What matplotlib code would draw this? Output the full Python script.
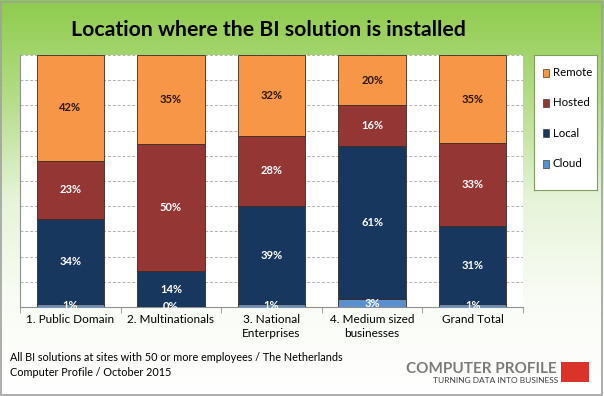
import numpy as np
import matplotlib
matplotlib.use("Agg")
import matplotlib.pyplot as plt
from matplotlib.colors import LinearSegmentedColormap
from matplotlib.patches import Rectangle

plt.rcParams['font.family'] = ['Lato', 'DejaVu Sans']

# data (percent per segment)
categories = ['1. Public Domain', '2. Multinationals', '3. National\nEnterprises',
              '4. Medium sized\nbusinesses', 'Grand Total']
series = ['Cloud', 'Local', 'Hosted', 'Remote']
cloud = [1, 0, 1, 3, 1]
local = [34, 14, 39, 61, 31]
hosted = [23, 50, 28, 16, 33]
remote = [42, 35, 32, 20, 35]

colors = {'Cloud': '#5A8FD0', 'Local': '#17375E', 'Hosted': '#943634', 'Remote': '#F79646'}
label_colors = {'Cloud': 'white', 'Local': 'white', 'Hosted': 'white', 'Remote': '#2B1500'}

fig = plt.figure(figsize=(6.04, 3.96), dpi=100)

# green gradient background
bg = fig.add_axes([0, 0, 1, 1], zorder=-10)
grad = np.linspace(0, 1, 256).reshape(-1, 1)
cmap = LinearSegmentedColormap.from_list('g', ['#8ECC4C', '#B5DC88', '#E6F3D8', '#F9FCF5', '#FFFFFF'])
bg.imshow(grad, aspect='auto', cmap=cmap, extent=[0, 1, 0, 1], origin='upper')
bg.add_patch(Rectangle((0.002, 0.003), 0.995, 0.993, fill=False, edgecolor='#A0A0A0', lw=1.2))
bg.set_xlim(0, 1)
bg.set_ylim(0, 1)
bg.axis('off')

ax = fig.add_axes([0.033, 0.225, 0.833, 0.636])
ax.set_facecolor('white')

values = {'Cloud': cloud, 'Local': local, 'Hosted': hosted, 'Remote': remote}
totals = np.sum([cloud, local, hosted, remote], axis=0)
x = np.arange(len(categories))
bottom = np.zeros(len(categories))
for s in series:
    v = np.array(values[s], dtype=float) / totals * 100
    ax.bar(x, v, 0.67, bottom=bottom, color=colors[s], edgecolor='#3A2A20',
           linewidth=0.6, zorder=3, label=s)
    for i in range(len(categories)):
        ax.text(x[i], bottom[i] + v[i] / 2, f'{values[s][i]}%', ha='center', va='center',
                fontsize=8, fontweight='bold', color=label_colors[s], zorder=4)
    bottom += v

ax.set_xlim(-0.5, len(categories) - 0.5)
ax.set_ylim(0, 100)
ax.set_yticks(np.arange(0, 101, 10))
ax.yaxis.grid(True, linestyle=(0, (3, 2)), color='#B0B0B0', lw=0.7)
ax.tick_params(axis='y', length=0, labelleft=False)
ax.set_xticks(x)
ax.set_xticklabels(categories, fontsize=8.5, linespacing=1.3)
ax.tick_params(axis='x', which='major', length=0, pad=5)
ax.set_xticks(np.arange(-0.5, len(categories), 1), minor=True)
ax.tick_params(axis='x', which='minor', length=4, color='#909090')
for side in ['top', 'right']:
    ax.spines[side].set_visible(False)
ax.spines['left'].set_color('#909090')
ax.spines['bottom'].set_color('#909090')

# legend box
lax = fig.add_axes([0.884, 0.52, 0.104, 0.341])
lax.set_xticks([])
lax.set_yticks([])
for sp in lax.spines.values():
    sp.set_color('#7F9F60')
    sp.set_linewidth(0.8)
lax.set_xlim(0, 1)
lax.set_ylim(0, 1)
for k, s in enumerate(['Remote', 'Hosted', 'Local', 'Cloud']):
    yy = 0.87 - k * 0.225
    lax.add_patch(Rectangle((0.14, yy - 0.03), 0.1, 0.06, facecolor=colors[s],
                            edgecolor='#404040', lw=0.5))
    lax.text(0.3, yy, s, va='center', ha='left', fontsize=8.3)

fig.text(0.445, 0.925, 'Location where the BI solution is installed', ha='center', va='center',
         fontsize=15.3, fontweight='bold', color='black')

fig.text(0.017, 0.078, 'All BI solutions at sites with 50 or more employees / The Netherlands\n'
         'Computer Profile / October 2015', ha='left', va='center', fontsize=7.8,
         linespacing=1.45)

# logo
fig.text(0.922, 0.058, 'COMPUTER PROFILE', ha='right', va='baseline', fontsize=11,
         color='#7A7A7A', fontweight='bold')
fig.text(0.924, 0.033, 'TURNING DATA INTO BUSINESS', ha='right', va='baseline', fontsize=6,
         color='#404040')
bg.add_patch(Rectangle((0.929, 0.035), 0.046, 0.051, facecolor='#D9332A', edgecolor='none'))

fig.savefig('out.png', dpi=100)
